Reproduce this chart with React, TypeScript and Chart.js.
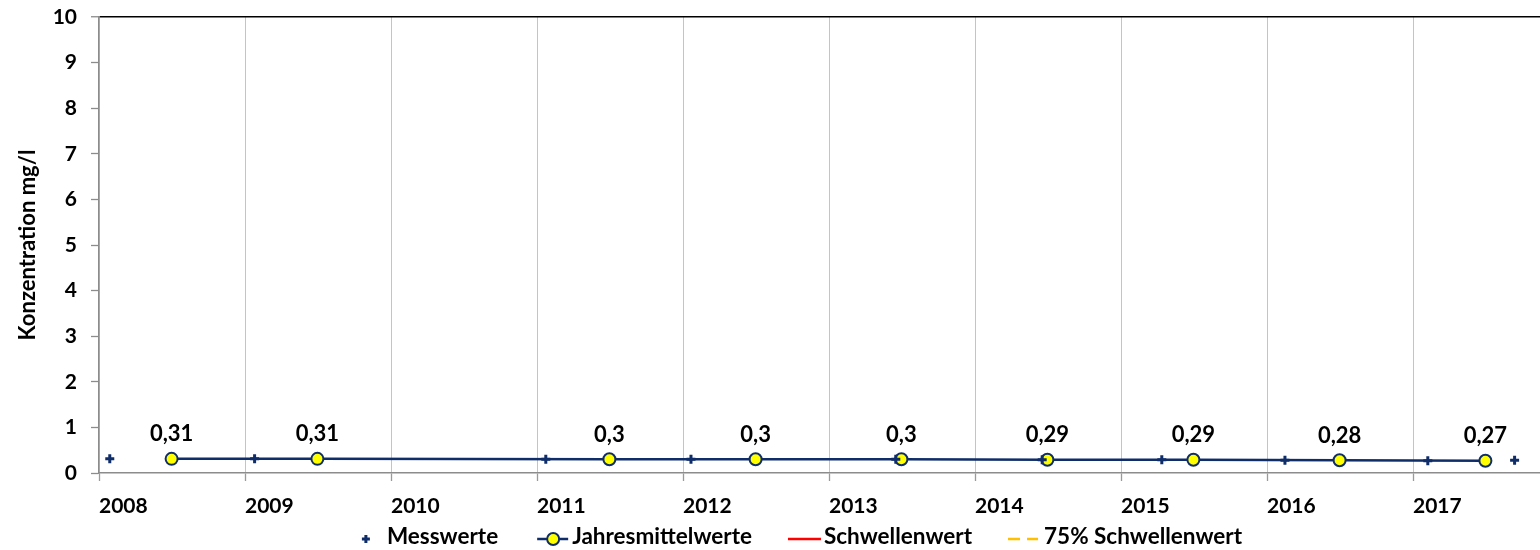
import React, { useEffect, useRef } from 'react';
import { Chart, registerables } from 'chart.js';

Chart.register(...registerables);

// ---- data ----
const messDates = [
  '2008-01-28', '2009-01-25', '2011-01-23', '2012-01-21', '2013-06-17',
  '2014-06-18', '2015-04-13', '2016-02-15', '2017-02-07', '2017-09-12',
];
const messValues = [0.31, 0.31, 0.3, 0.3, 0.3, 0.29, 0.29, 0.28, 0.27, 0.28];

const meanDates = [
  '2008-07-01', '2009-07-01', '2011-07-01', '2012-07-01', '2013-07-01',
  '2014-07-01', '2015-07-01', '2016-07-01', '2017-07-01',
];
const meanValues = [0.31, 0.31, 0.3, 0.3, 0.3, 0.29, 0.29, 0.28, 0.27];

const thresholdValues: { x: number; y: number }[] = [];
const threshold75Values: { x: number; y: number }[] = [];

const xTickYears = [2008, 2009, 2010, 2011, 2012, 2013, 2014, 2015, 2016, 2017];
const xMin = 2008;
const yMin = 0;
const yMax = 10;
const yStep = 1;

const seriesLabels = ['Messwerte', 'Jahresmittelwerte', 'Schwellenwert', '75% Schwellenwert'];
const yTitle = 'Konzentration mg/l';

// ---- styles / layout ----
const NAVY = '#0F2D69';
const YELLOW = '#FFFF00';
const RED = '#FF0000';
const ORANGE = '#FFC000';
const FONT = 'Lato';
const PX_PER_YEAR = 146;
const AXIS_LEFT = 99;

function yearFraction(s: string): number {
  const d = new Date(s + 'T00:00:00Z');
  const y = d.getUTCFullYear();
  const start = Date.UTC(y, 0, 1);
  const end = Date.UTC(y + 1, 0, 1);
  return y + (d.getTime() - start) / (end - start);
}

const meanLabelPlugin = {
  id: 'meanLabels',
  afterDatasetsDraw(chart: any) {
    const meta = chart.getDatasetMeta(1);
    const ctx = chart.ctx;
    ctx.save();
    ctx.font = `bold 22px ${FONT}`;
    ctx.fillStyle = '#000';
    ctx.textAlign = 'center';
    ctx.textBaseline = 'alphabetic';
    meta.data.forEach((el: any, i: number) => {
      const v = chart.data.datasets[1].data[i].y;
      ctx.fillText(String(v).replace('.', ','), el.x, el.y - 17.5);
    });
    ctx.restore();
  },
};

const legendPlugin = {
  id: 'customLegend',
  afterDraw(chart: any) {
    const ctx = chart.ctx;
    const ds = chart.data.datasets;
    ctx.save();
    ctx.font = `bold 22.5px ${FONT}`;
    const iconY = 539;
    const baseY = 544;
    const items = [
      {
        label: ds[0].label, iconW: 25, gapAfter: 39,
        draw: (x: number) => {
          ctx.strokeStyle = NAVY; ctx.lineWidth = 3;
          ctx.beginPath();
          ctx.moveTo(x, iconY); ctx.lineTo(x + 8, iconY);
          ctx.moveTo(x + 4, iconY - 4); ctx.lineTo(x + 4, iconY + 4);
          ctx.stroke();
        },
      },
      {
        label: ds[1].label, iconW: 35, gapAfter: 36,
        draw: (x: number) => {
          ctx.strokeStyle = NAVY; ctx.lineWidth = 2.5;
          ctx.beginPath(); ctx.moveTo(x, iconY); ctx.lineTo(x + 31, iconY); ctx.stroke();
          ctx.beginPath(); ctx.arc(x + 16, iconY, 6, 0, Math.PI * 2);
          ctx.fillStyle = YELLOW; ctx.fill();
          ctx.lineWidth = 2; ctx.stroke();
        },
      },
      {
        label: ds[2].label, iconW: 36, gapAfter: 36,
        draw: (x: number) => {
          ctx.strokeStyle = RED; ctx.lineWidth = 2.5;
          ctx.beginPath(); ctx.moveTo(x, iconY); ctx.lineTo(x + 33, iconY); ctx.stroke();
        },
      },
      {
        label: ds[3].label, iconW: 36, gapAfter: 0,
        draw: (x: number) => {
          ctx.strokeStyle = ORANGE; ctx.lineWidth = 2.5;
          ctx.beginPath();
          ctx.moveTo(x, iconY); ctx.lineTo(x + 12, iconY);
          ctx.moveTo(x + 19, iconY); ctx.lineTo(x + 30, iconY);
          ctx.stroke();
        },
      },
    ];
    const widths = items.map((it) => ctx.measureText(it.label).width);
    let total = 0;
    items.forEach((it, i) => { total += it.iconW + widths[i] + it.gapAfter; });
    let x = 802 - total / 2;
    items.forEach((it, i) => {
      it.draw(x);
      ctx.fillStyle = '#000';
      ctx.textAlign = 'left';
      ctx.textBaseline = 'alphabetic';
      ctx.fillText(it.label, x + it.iconW, baseY);
      x += it.iconW + widths[i] + it.gapAfter;
    });
    ctx.restore();
  },
};

export default function App() {
  const ref = useRef<HTMLCanvasElement | null>(null);

  useEffect(() => {
    if (!ref.current) return;
    document.body.style.margin = '0';
    document.body.style.overflow = 'hidden';
    Chart.defaults.font.family = FONT;

    const messPoints = messDates.map((d, i) => ({ x: yearFraction(d), y: messValues[i] }));
    const meanPoints = meanDates.map((d, i) => ({ x: yearFraction(d), y: meanValues[i] }));

    const chart = new Chart(ref.current, {
      type: 'line',
      data: {
        datasets: [
          {
            label: seriesLabels[0],
            data: messPoints,
            showLine: false,
            pointStyle: 'cross',
            pointRadius: 4.5,
            pointBorderWidth: 3,
            pointBorderColor: NAVY,
            pointBackgroundColor: NAVY,
            borderColor: NAVY,
          },
          {
            label: seriesLabels[1],
            data: meanPoints,
            showLine: true,
            borderColor: NAVY,
            borderWidth: 2.5,
            pointStyle: 'circle',
            pointRadius: 6,
            pointBorderWidth: 2,
            pointBorderColor: NAVY,
            pointBackgroundColor: YELLOW,
            tension: 0,
          },
          {
            label: seriesLabels[2],
            data: thresholdValues,
            borderColor: RED,
            borderWidth: 2.5,
            pointRadius: 0,
          },
          {
            label: seriesLabels[3],
            data: threshold75Values,
            borderColor: ORANGE,
            borderWidth: 2.5,
            borderDash: [12, 7],
            pointRadius: 0,
          },
        ],
      } as any,
      options: {
        responsive: false,
        animation: false,
        events: [],
        layout: { padding: { top: 17, bottom: 37, left: 0, right: 0 } },
        plugins: {
          legend: { display: false },
          tooltip: { enabled: false },
          title: { display: false },
        },
        scales: {
          x: {
            type: 'linear',
            min: xMin,
            max: xMin + 10.3,
            afterBuildTicks: (scale: any) => {
              scale.ticks = xTickYears.map((v) => ({ value: v }));
            },
            afterFit: (scale: any) => {
              scale.height = 40;
              scale.paddingLeft = 0;
              scale.paddingRight = 0;
            },
            ticks: {
              align: 'start',
              padding: 13,
              color: '#000',
              font: { family: FONT, size: 21, weight: 'bold' },
              callback: (v: any) => String(v),
              maxRotation: 0,
              autoSkip: false,
            },
            grid: {
              color: '#C4C4C4',
              lineWidth: 1,
              tickLength: 8,
              tickColor: '#9A9A9A',
              tickWidth: 1.3,
            },
            border: { color: '#8C8C8C', width: 1.5 },
          },
          y: {
            type: 'linear',
            min: yMin,
            max: yMax,
            afterFit: (scale: any) => {
              scale.width = AXIS_LEFT;
              scale.paddingTop = 0;
              scale.paddingBottom = 0;
            },
            ticks: {
              stepSize: yStep,
              padding: 14,
              color: '#000',
              font: { family: FONT, size: 21, weight: 'bold' },
            },
            grid: {
              color: (c: any) => (c.tick && c.tick.value === yMax ? '#000000' : 'rgba(0,0,0,0)'),
              lineWidth: (c: any) => (c.tick && c.tick.value === yMax ? 1.5 : 1),
              tickLength: 8,
              tickColor: '#8C8C8C',
              tickWidth: 1.3,
            },
            border: { color: '#8C8C8C', width: 1.5 },
            title: {
              display: true,
              text: yTitle,
              color: '#000',
              font: { family: FONT, size: 22, weight: 'bold' },
              padding: { top: 15, bottom: 0 },
            },
          },
        },
      } as any,
      plugins: [meanLabelPlugin, legendPlugin],
    });

    // keep the reference's year width: the axis runs past the visible right edge
    const ca = chart.chartArea;
    (chart.options.scales as any).x.max = xMin + (ca.right - ca.left) / PX_PER_YEAR;
    chart.update();

    return () => chart.destroy();
  }, []);

  return (
    <div style={{ position: 'fixed', left: 0, top: 0, width: 1540, height: 550, overflow: 'hidden', background: '#fff' }}>
      <canvas ref={ref} width={1570} height={550} style={{ display: 'block' }} />
    </div>
  );
}
